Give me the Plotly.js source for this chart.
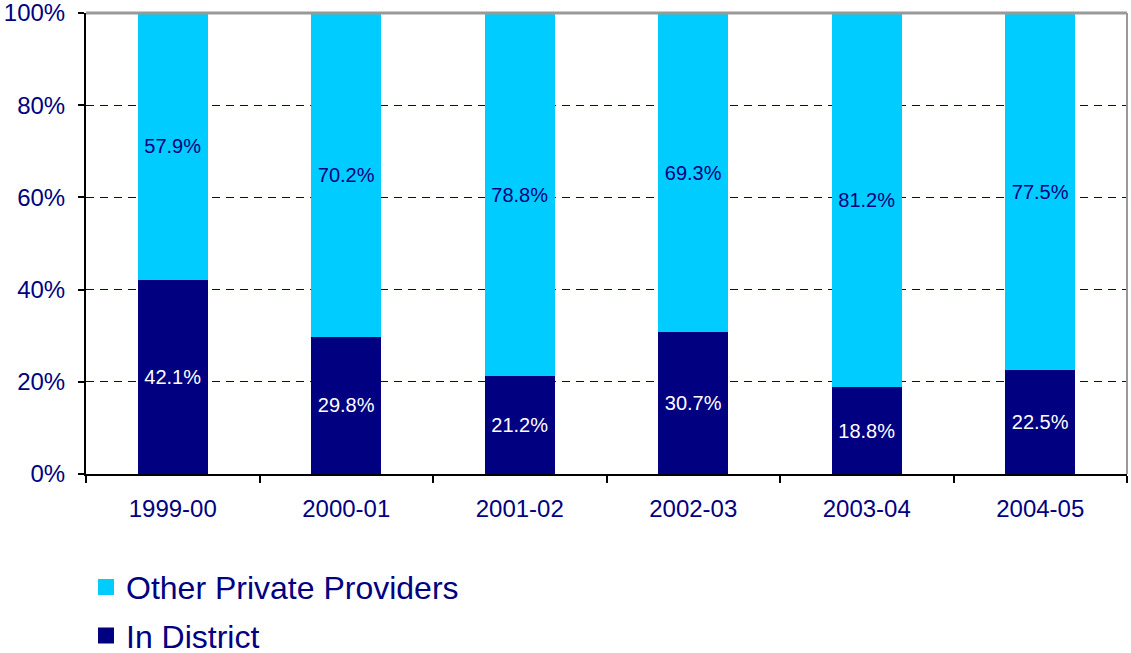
<!DOCTYPE html>
<html><head><meta charset="utf-8">
<script src="https://cdn.plot.ly/plotly-3.0.1.min.js"></script>
<style>html,body{margin:0;padding:0;background:#fff}#chart{width:1131px;height:653px}</style>
</head><body><div id="chart"></div>
<script>
const years = ["1999-00","2000-01","2001-02","2002-03","2003-04","2004-05"];
const inDistrict = [42.1, 29.8, 21.2, 30.7, 18.8, 22.5];
const otherPrivate = [57.9, 70.2, 78.8, 69.3, 81.2, 77.5];
const seriesNames = ["In District", "Other Private Providers"];
const yTickVals = [0, 20, 40, 60, 80, 100];
const yTickText = ["0%", "20%", "40%", "60%", "80%", "100%"];
const navy = "#000080", cyan = "#00CCFF";
const fontFam = "Arial, 'Liberation Sans', sans-serif";

const traces = [
  {type:"bar", x:years, y:inDistrict, name:seriesNames[0], marker:{color:navy},
   texttemplate:"%{y:.1f}%", textposition:"inside", insidetextanchor:"middle",
   textfont:{size:20, color:"#ffffff", family:fontFam}, constraintext:"none",
   showlegend:false, hoverinfo:"x+y"},
  {type:"bar", x:years, y:otherPrivate, name:seriesNames[1], marker:{color:cyan},
   texttemplate:"%{y:.1f}%", textposition:"inside", insidetextanchor:"middle",
   textfont:{size:20, color:navy, family:fontFam}, constraintext:"none",
   showlegend:false, hoverinfo:"x+y"},
  {type:"scatter", mode:"markers", x:[null], y:[null], name:seriesNames[1],
   marker:{symbol:"square", size:20, color:cyan}, legendgroup:"a", showlegend:true},
  {type:"scatter", mode:"markers", x:[null], y:[null], name:seriesNames[0],
   marker:{symbol:"square", size:20, color:navy}, legendgroup:"b", showlegend:true}
];

const layout = {
  width:1131, height:653,
  margin:{l:86, r:4, t:13, b:179, autoexpand:false},
  paper_bgcolor:"#ffffff", plot_bgcolor:"#ffffff",
  font:{family:fontFam, color:navy},
  barmode:"stack", bargap:0.597,
  xaxis:{type:"category", showline:true, linecolor:"#000000", linewidth:2,
    ticks:"outside", tickson:"boundaries", ticklen:7, tickcolor:"#000000", tickwidth:2,
    tickfont:{size:24, color:navy, family:fontFam}, ticklabelstandoff:12,
    showgrid:false, zeroline:false, fixedrange:true},
  yaxis:{range:[0,100], tickmode:"array", tickvals:yTickVals, ticktext:yTickText,
    showline:true, linecolor:"#000000", linewidth:2, ticklabeloverflow:"allow",
    ticks:"outside", ticklen:6, tickcolor:"#000000", tickwidth:2,
    tickfont:{size:24, color:navy, family:fontFam}, ticklabelstandoff:8,
    showgrid:true, gridcolor:navy, gridwidth:1, griddash:"8px,6px",
    zeroline:false, fixedrange:true},
  shapes:[
    {type:"line", xref:"paper", yref:"paper", x0:0, x1:1, y0:1, y1:1, line:{color:"#999999", width:3}, layer:"above"},
    {type:"line", xref:"paper", yref:"paper", x0:1, x1:1, y0:0, y1:1, line:{color:"#999999", width:2}, layer:"above"}
  ],
  showlegend:true,
  legend:{x:0.0, xanchor:"left", yref:"container", y:0.143, yanchor:"top", orientation:"v",
    font:{size:32, color:navy, family:fontFam}, traceorder:"grouped", tracegroupgap:4,
    bgcolor:"rgba(0,0,0,0)", itemwidth:30}
};
Plotly.newPlot("chart", traces, layout, {displayModeBar:false, staticPlot:true});
</script></body></html>
